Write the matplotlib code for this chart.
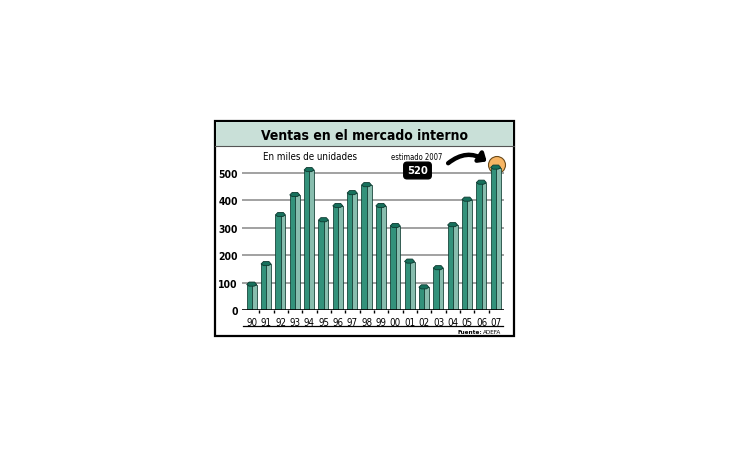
import matplotlib
matplotlib.use("Agg")
import matplotlib.pyplot as plt
from matplotlib.patches import Rectangle, Polygon, Ellipse, FancyArrowPatch
from matplotlib.lines import Line2D

years = ["90", "91", "92", "93", "94", "95", "96", "97", "98", "99",
         "00", "01", "02", "03", "04", "05", "06", "07"]
ventas = [93, 168, 347, 420, 511, 328, 380, 427, 456, 380,
          307, 177, 83, 153, 310, 403, 465, 520]
yticks = [0, 100, 200, 300, 400, 500]
title = "Ventas en el mercado interno"
subtitle = "En miles de unidades"
estimado_label = "estimado 2007"
estimado_value = "520"
source_bold = "Fuente:"
source_text = "ADEFA"

plt.rcParams['font.family'] = ["DejaVu Sans"]
plt.rcParams['font.stretch'] = "condensed"

W, H = 730, 460
fig = plt.figure(figsize=(W / 100, H / 100), dpi=100)
fig.patch.set_facecolor("white")

def fx(px):
    return px / W

def fy(py):
    return 1 - py / H

# Frame
fig.patches.append(Rectangle((fx(215), fy(337)), fx(514) - fx(215), fy(122) - fy(337),
                             transform=fig.transFigure, facecolor="white",
                             edgecolor="black", linewidth=1.6, zorder=0))
fig.patches.append(Rectangle((fx(216), fy(147)), fx(513) - fx(216), fy(123) - fy(147),
                             transform=fig.transFigure, facecolor="#c9e0d8",
                             edgecolor="none", zorder=1))
fig.lines.append(Line2D([fx(215), fx(514)], [fy(147), fy(147)], transform=fig.transFigure,
                        color="#555555", linewidth=0.8))
fig.text(fx(364.5), fy(135.5), title, ha="center", va="center", fontsize=10,
         fontweight="heavy", color="black")

# Axes
x0, x1 = 242, 504
ybase, ytop = 311, 160
ax = fig.add_axes([fx(x0), fy(ybase), fx(x1) - fx(x0), fy(ytop) - fy(ybase)])
ax.set_facecolor("none")
step = 14.35
ax.set_xlim((x0 - 252) / step, (x1 - 252) / step)
ax.set_ylim(0, (ybase - ytop) / 0.274)
for s in ax.spines.values():
    s.set_visible(False)

for v in yticks[1:]:
    ax.axhline(v, color="#9a9a9a", linewidth=1.3, zorder=1)
ax.axhline(0, color="black", linewidth=1.2, zorder=5)

idx = list(range(len(years)))
wl, wr = 0.37, 0.33
ax.bar([i - wl / 2 for i in idx], ventas, width=wl, color="#33927b",
       edgecolor="#0d3a30", linewidth=0.55, zorder=3)
ax.bar([i + wr / 2 for i in idx], ventas, width=wr, color="#88bdae",
       edgecolor="#0d3a30", linewidth=0.55, zorder=3)
for i, v in zip(idx, ventas):
    cap = Polygon([(i - wl, v), (i - 0.2, v + 9), (i + 0.18, v + 9), (i + wr, v),
                   (i + 0.15, v - 6), (i - 0.2, v - 6)],
                  closed=True, facecolor="#17705c", edgecolor="#0d3a30",
                  linewidth=0.6, zorder=4)
    ax.add_patch(cap)

ax.set_yticks(yticks)
ax.set_yticklabels([str(t) for t in yticks], fontsize=7.5, fontweight="bold")
ax.set_xticks(idx)
ax.set_xticklabels(years, fontsize=7)
ax.tick_params(axis="y", length=0, pad=3)
ax.tick_params(axis="x", length=0, pad=5)
ax.set_xticks([i + 0.5 for i in idx[:-1]], minor=True)
ax.tick_params(axis="x", which="minor", length=2.5, width=1, color="black")

# Highlight 2007 (circle behind the bars)
fig.patches.append(Ellipse((fx(497), fy(166)), 17 / W, 17 / H, transform=fig.transFigure,
                           facecolor="#f7b564", edgecolor="#6b4a1a", linewidth=0.8, zorder=2))
ax.set_zorder(3)

fig.text(fx(417), fy(158), estimado_label, ha="center", va="center", fontsize=5.5)
fig.text(fx(417.5), fy(171.5), estimado_value, ha="center", va="center", fontsize=8,
         fontweight="heavy", color="white",
         bbox=dict(boxstyle="round,pad=0.3,rounding_size=0.3", facecolor="black",
                   edgecolor="black"))
fig.text(fx(263), fy(157), subtitle, ha="left", va="center", fontsize=7)

arrow = FancyArrowPatch((fx(446), fy(166)), (fx(489), fy(164)), transform=fig.transFigure,
                        connectionstyle="arc3,rad=-0.4",
                        arrowstyle="-|>,head_length=4,head_width=3.5",
                        color="black", linewidth=3.2, zorder=6)
fig.patches.append(arrow)

# underline and source
fig.lines.append(Line2D([fx(243), fx(503)], [fy(327), fy(327)], transform=fig.transFigure,
                        color="black", linewidth=0.9))
fig.text(fx(482), fy(332.5), source_bold, ha="right", va="center", fontsize=4.6,
         fontweight="bold")
fig.text(fx(483), fy(332.5), source_text, ha="left", va="center", fontsize=4.6)

fig.savefig("out.png", dpi=100, facecolor="white")
